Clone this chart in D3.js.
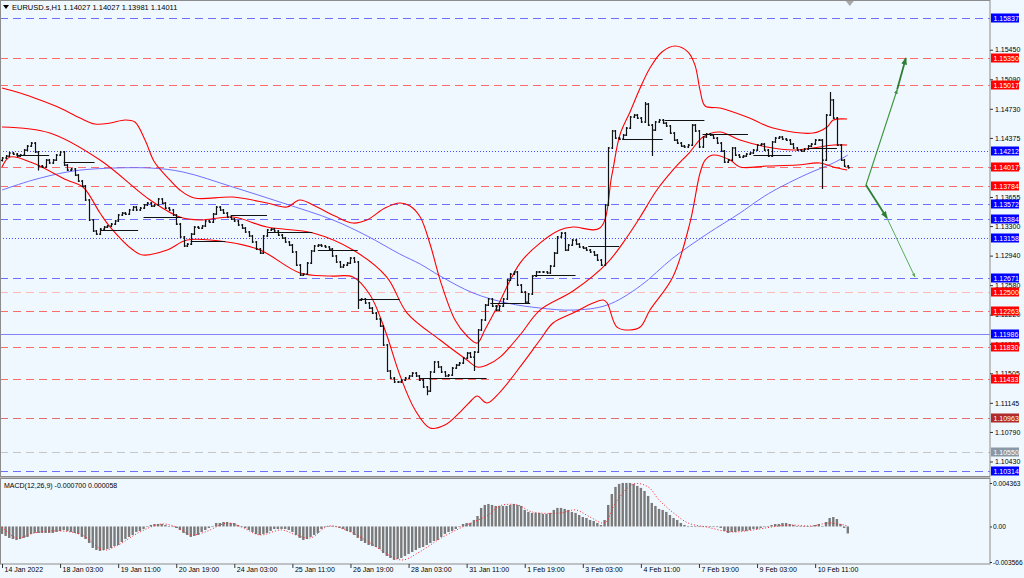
<!DOCTYPE html>
<html>
<head>
<meta charset="utf-8">
<script src="https://d3js.org/d3.v7.min.js"></script>
<style>
  body { margin: 0; background: #f0f8ff; }
  svg text { font-family: "Liberation Sans", Arial, sans-serif; font-size: 7px; fill: #000; }
</style>
</head>
<body>
<svg id="chart" width="1024" height="578"></svg>
<script>
// EURUSD.s H1, one value per two hours
var closes = [
  1.14130,1.14154,1.14191,1.14178,1.14154,1.14166,1.14227,1.14276,1.14312,1.14203,
  1.14032,1.14020,1.14105,1.14069,1.14105,1.14166,1.14203,1.14044,1.13983,1.13996,
  1.13922,1.13849,1.13788,1.13618,1.13374,1.13240,1.13203,1.13264,1.13288,1.13301,
  1.13325,1.13362,1.13435,1.13459,1.13447,1.13496,1.13532,1.13496,1.13520,1.13557,
  1.13581,1.13544,1.13557,1.13630,1.13581,1.13520,1.13496,1.13435,1.13325,1.13167,
  1.13057,1.13081,1.13203,1.13288,1.13276,1.13301,1.13362,1.13349,1.13447,1.13532,
  1.13496,1.13459,1.13410,1.13386,1.13362,1.13313,1.13276,1.13228,1.13179,1.13106,
  1.13020,1.12971,1.13179,1.13252,1.13264,1.13240,1.13191,1.13154,1.13106,1.13069,
  1.12984,1.12825,1.12703,1.12715,1.12849,1.12996,1.13057,1.13069,1.13057,1.13045,
  1.13020,1.12935,1.12862,1.12801,1.12825,1.12849,1.12910,1.12862,1.12398,1.12411,
  1.12362,1.12301,1.12240,1.12167,1.12081,1.11850,1.11533,1.11447,1.11399,1.11399,
  1.11423,1.11447,1.11472,1.11508,1.11472,1.11423,1.11338,1.11289,1.11521,1.11643,
  1.11582,1.11521,1.11472,1.11484,1.11569,1.11606,1.11630,1.11691,1.11752,1.11703,
  1.11764,1.12033,1.12155,1.12337,1.12411,1.12325,1.12276,1.12325,1.12411,1.12642,
  1.12715,1.12740,1.12581,1.12496,1.12374,1.12472,1.12691,1.12740,1.12740,1.12740,
  1.12728,1.12813,1.12971,1.13167,1.13215,1.13008,1.13069,1.13130,1.13081,1.13045,
  1.13032,1.13008,1.12984,1.12947,1.12886,1.12825,1.13557,1.14252,1.14459,1.14373,
  1.14361,1.14410,1.14495,1.14630,1.14654,1.14617,1.14569,1.14788,1.14532,1.14471,
  1.14569,1.14593,1.14556,1.14520,1.14434,1.14349,1.14312,1.14276,1.14264,1.14288,
  1.14532,1.14459,1.14264,1.14386,1.14422,1.14410,1.14373,1.14312,1.14215,1.14081,
  1.14105,1.14252,1.14166,1.14142,1.14154,1.14178,1.14191,1.14227,1.14288,1.14300,
  1.14227,1.14154,1.14325,1.14373,1.14386,1.14361,1.14349,1.14300,1.14252,1.14227,
  1.14215,1.14239,1.14276,1.14300,1.14349,1.14349,1.14105,1.14654,1.14837,1.14617,
  1.14288,1.14105,1.14032,1.14011
];
var firstOpen = 1.14100;
// long wicks [bar, extreme price]
var spikes = [[10,1.13990],[98,1.12300],[117,1.11250],[130,1.11545],[177,1.14801],[179,1.14166],[226,1.13764],[228,1.14922]];

// bollinger lines [bar, price]
var bandUpper = [[0,1.14983],[5,1.14922],[10.5,1.14837],[16,1.14739],[21.5,1.14617],[25.6,1.14544],[29.8,1.14556],[33.9,1.14593],
  [36.6,1.14569],[39.4,1.14349],[42,1.14081],[45.5,1.13898],[49,1.13740],[53,1.13642],[63.6,1.13654],[73,1.13581],[78.5,1.13532],
  [82,1.13618],[86.8,1.13532],[91.7,1.13422],[96.7,1.13337],[100.5,1.13374],[105.5,1.13520],[109.6,1.13581],[112.4,1.13544],
  [115.2,1.13410],[118,1.13069],[120.7,1.12642],[124.8,1.12155],[128.1,1.11960],[130.9,1.11874],[133,1.12033],[136.4,1.12313],
  [142.7,1.12849],[148.2,1.13093],[153.7,1.13252],[157.3,1.13288],[164.7,1.13276],[168,1.13922],[170.2,1.14410],[173,1.14691],
  [175.8,1.14983],[178.5,1.15227],[181.8,1.15422],[185.4,1.15495],[189,1.15422],[190.9,1.15263],[192.3,1.14959],[193.7,1.14764],
  [197.8,1.14739],[205.2,1.14630],[212.4,1.14495],[223.4,1.14434],[227.3,1.14508],[229,1.14593],[232.8,1.14605]];
var bandMiddle = [[0,1.14508],[13.2,1.14434],[27,1.14105],[40.8,1.13618],[49,1.13410],[54.5,1.13374],[63.6,1.13410],[73,1.13288],
  [85.7,1.13215],[96.7,1.13008],[106,1.12679],[111.6,1.12240],[120.7,1.11911],[128.1,1.11667],[130.9,1.11581],[133.6,1.11606],
  [137.2,1.11703],[142.7,1.11972],[148.2,1.12276],[157.3,1.12508],[166.7,1.12849],[172.2,1.13167],[175.8,1.13410],[180.4,1.13740],
  [184.8,1.13983],[189.5,1.14203],[193.1,1.14386],[197.8,1.14447],[203.3,1.14349],[210.7,1.14264],[217.9,1.14227],[223.4,1.14252],
  [229,1.14288],[232.8,1.14288]];
var bandLower = [[0,1.14020],[2.2,1.14142],[8.5,1.14069],[17.9,1.13861],[22.3,1.13776],[27,1.13459],[29.8,1.13288],[36.1,1.13008],
  [38.8,1.12947],[45.5,1.13008],[51,1.13130],[62,1.13106],[71.1,1.13008],[82.1,1.12728],[90.4,1.12691],[96.7,1.12679],[101.4,1.12459],
  [105.5,1.12033],[109.6,1.11484],[113.8,1.11057],[117.9,1.10838],[122,1.10874],[126.2,1.11033],[128.9,1.11155],[130.9,1.11228],
  [133.6,1.11143],[137.2,1.11277],[143.5,1.11630],[148.2,1.11911],[151.8,1.12118],[157.3,1.12240],[162.8,1.12362],[165.6,1.12398],
  [166.7,1.12362],[169.4,1.12069],[173,1.12033],[175.8,1.12069],[178.5,1.12276],[184.8,1.12679],[189.5,1.13337],[192.3,1.13947],
  [193.7,1.14105],[195.9,1.14166],[200.6,1.14105],[203.3,1.14020],[210.7,1.14032],[219,1.14044],[225.3,1.14069],[229,1.14020],
  [232.8,1.13983]];
var maSlow = [[0,1.13740],[8.5,1.13861],[17.9,1.13959],[25.1,1.13996],[40.8,1.14008],[49.9,1.13959],[63.6,1.13776],[77.4,1.13581],
  [91.2,1.13374],[100.6,1.13179],[109.6,1.12959],[115.2,1.12837],[120.7,1.12691],[129.8,1.12484],[139.1,1.12362],[148.2,1.12301],
  [157.3,1.12276],[166.7,1.12337],[175.8,1.12569],[184.8,1.12910],[194.2,1.13203],[203.3,1.13459],[208,1.13605],[212.4,1.13727],
  [221.8,1.13935],[229,1.14069],[233,1.14166]];

// daily open lines [from bar, to bar, price]
var dayLines = [[4,13,1.14166],[17,25.5,1.14081],[27,37.5,1.13252],[39,49.5,1.13410],[52,61.5,1.13118],[63,73,1.13435],
  [73,85.5,1.13228],[87,98,1.13008],[98.5,109.5,1.12411],[115,133.5,1.11447],[134.5,145.5,1.12362],[146.5,158,1.12703],
  [161.5,170,1.13057],[171,182,1.14361],[182.5,193.5,1.14593],[193,205.5,1.14422],[207,217.5,1.14166],[222,230,1.14252]];

var levelPrices = [1.15837,1.15350,1.15017,1.14212,1.14017,1.13784,1.13572,1.13384,1.13158,1.12671,1.12500,1.12263,
  1.11986,1.11830,1.11433,1.10963,1.10550,1.10314];
var levelKinds = ["B","R","R","BD","R","R","B","B","BD","B","RL","R","BS","R","R","RD","G","B"];

var priceTicks = [1.15450,1.15090,1.14730,1.14375,1.14015,1.13655,1.13300,1.12940,1.12580,1.12220,1.11865,1.11505,1.11145,1.10790,1.10430];
var timeLabels = ["14 Jan 2022","18 Jan 03:00","19 Jan 11:00","20 Jan 19:00","24 Jan 03:00","25 Jan 11:00","26 Jan 19:00",
  "28 Jan 03:00","31 Jan 11:00","1 Feb 19:00","3 Feb 03:00","4 Feb 11:00","7 Feb 19:00","9 Feb 03:00","10 Feb 11:00"];
var barsPerLabel = 16;

var macdHist = [
  -0.00075,-0.00095,-0.00115,-0.00126,-0.00136,-0.00126,-0.00115,-0.00105,-0.00075,-0.00065,
  -0.00065,-0.00065,-0.00065,-0.00065,-0.00065,-0.00055,-0.00045,-0.00035,-0.00045,-0.00055,
  -0.00065,-0.00075,-0.00105,-0.00126,-0.00166,-0.00216,-0.00236,-0.00246,-0.00236,-0.00226,
  -0.00216,-0.00196,-0.00186,-0.00156,-0.00126,-0.00105,-0.00085,-0.00055,-0.00045,-0.00025,
  -0.00005,0.00015,0.00025,0.00025,0.00025,0.00015,0.00005,-0.00005,-0.00015,-0.00035,
  -0.00065,-0.00085,-0.00105,-0.00095,-0.00085,-0.00055,-0.00035,-0.00015,0.00005,0.00035,
  0.00035,0.00045,0.00045,0.00035,0.00035,0.00015,-0.00005,-0.00015,-0.00035,-0.00055,
  -0.00075,-0.00085,-0.00075,-0.00065,-0.00045,-0.00025,-0.00025,-0.00025,-0.00025,-0.00035,
  -0.00055,-0.00085,-0.00115,-0.00136,-0.00126,-0.00105,-0.00085,-0.00065,-0.00025,-0.00005,
  0.00005,0.00005,-0.00005,-0.00015,-0.00025,-0.00045,-0.00055,-0.00085,-0.00115,-0.00146,
  -0.00166,-0.00186,-0.00196,-0.00206,-0.00226,-0.00266,-0.00296,-0.00316,-0.00336,-0.00326,
  -0.00316,-0.00296,-0.00276,-0.00256,-0.00236,-0.00216,-0.00206,-0.00186,-0.00166,-0.00146,
  -0.00136,-0.00105,-0.00075,-0.00055,-0.00045,-0.00025,-0.00005,0.00025,0.00035,0.00035,
  0.00065,0.00105,0.00186,0.00216,0.00226,0.00216,0.00206,0.00206,0.00206,0.00206,
  0.00216,0.00226,0.00216,0.00206,0.00166,0.00146,0.00136,0.00136,0.00136,0.00126,
  0.00126,0.00136,0.00166,0.00186,0.00186,0.00176,0.00166,0.00146,0.00136,0.00115,
  0.00095,0.00085,0.00065,0.00055,0.00035,0.00015,0.00065,0.00216,0.00326,0.00397,
  0.00427,0.00437,0.00437,0.00437,0.00427,0.00407,0.00387,0.00356,0.00306,0.00236,
  0.00206,0.00176,0.00166,0.00146,0.00115,0.00085,0.00065,0.00035,0.00015,-0.00005,
  0.00005,0.00005,-0.00005,-0.00005,0.00005,0.00005,-0.00005,-0.00005,-0.00015,-0.00045,
  -0.00065,-0.00055,-0.00055,-0.00045,-0.00045,-0.00045,-0.00035,-0.00025,-0.00025,-0.00015,
  -0.00005,-0.00005,0.00015,0.00025,0.00025,0.00035,0.00035,0.00025,0.00015,0.00005,
  0.00005,0.00005,0.00005,0.00005,0.00015,0.00025,0.00005,0.00045,0.00085,0.00095,
  0.00075,0.00025,-0.00015,-0.00070
];
var macdSignal = [[0,-0.00005],[4,-0.00115],[9,-0.00065],[16,-0.00045],[22,-0.00085],[28,-0.00236],[32,-0.00186],[38,-0.00055],
  [44,0.00025],[48,-0.00005],[52,-0.00085],[56,-0.00055],[62,0.00035],[66,-0.00005],[71,-0.00085],[77,-0.00035],[81,-0.00085],
  [85,-0.00115],[90,0.00005],[96,-0.00055],[101,-0.00156],[110,-0.00336],[115,-0.00256],[121,-0.00115],[128,0.00015],[134,0.00115],
  [137,0.00206],[142,0.00216],[146,0.00146],[154,0.00136],[158,0.00166],[162,0.00095],[166,0.00035],[169,0.00236],[174,0.00427],
  [178,0.00397],[181,0.00266],[185,0.00136],[189,0.00035],[194,-0.00005],[201,-0.00055],[207,-0.00035],[212,-0.00005],
  [217,0.00015],[223,0.00005],[228,0.00035],[233,0.00006]];
var macdTicks = [0.004363, 0, -0.003566];
var macdTickText = ["0.004363", "0.00", "-0.003566"];

// scenario arrows [bar, price]
var arrowUp = [[238,1.13800],[246.6,1.14964],[249,1.15349]];
var arrowDown = [[238,1.13800],[243.8,1.13398],[251.5,1.12679]];

var svg = d3.select("#chart");
var plotRight = 990, mainBottom = 476, macdTop = 479, macdBottom = 564;

var x = d3.scaleLinear().domain([0, closes.length - 1]).range([2, 847.8]);
var y = d3.scaleLinear().domain([1.10314, 1.15837]).range([471, 18]);
var ym = d3.scaleLinear().domain([-0.003566, 0.004363]).range([562, 483]);

svg.append("rect").attr("width", 1024).attr("height", 578).attr("fill", "#f0f8ff");

var defs = svg.append("defs");
defs.append("clipPath").attr("id", "clipMain").append("rect")
    .attr("x", 1).attr("y", 1).attr("width", plotRight - 1).attr("height", mainBottom - 1);
defs.append("clipPath").attr("id", "clipMacd").append("rect")
    .attr("x", 1).attr("y", macdTop).attr("width", plotRight - 1).attr("height", macdBottom - macdTop);
["#3c963c", "#2e7d32", "#5aaa5a"].forEach(function(c, i) {
    defs.append("marker").attr("id", "ah" + i)
        .attr("viewBox", "0 0 10 10").attr("refX", 9).attr("refY", 5)
        .attr("markerWidth", 4).attr("markerHeight", 4).attr("orient", "auto")
        .append("path").attr("d", "M0,1 L10,5 L0,9 z").attr("fill", c);
});

var main = svg.append("g").attr("clip-path", "url(#clipMain)");

// horizontal levels
var lineStyle = {
    B:  {c: "#6e6eff", d: "8,5"},
    BD: {c: "#4a4aff", d: "1,2"},
    BS: {c: "#8383ff", d: null},
    R:  {c: "#ff6a6a", d: "8,5"},
    RL: {c: "#ffb8b8", d: "8,5"},
    RD: {c: "#e07070", d: "8,5"},
    G:  {c: "#c6c6c6", d: "8,5"}
};
var boxColor = {B: "#0000ff", BD: "#0000ff", BS: "#0000ff", R: "#ff0000", RL: "#ff0000", RD: "#b02a2a", G: "#8a98a6"};

main.selectAll("line.level")
    .data(levelPrices)
    .enter().append("line")
    .attr("class", "level")
    .attr("x1", 0).attr("x2", plotRight)
    .attr("y1", function(d) { return Math.round(y(d)) + 0.5; })
    .attr("y2", function(d) { return Math.round(y(d)) + 0.5; })
    .attr("stroke", function(d, i) { return lineStyle[levelKinds[i]].c; })
    .attr("stroke-dasharray", function(d, i) { return lineStyle[levelKinds[i]].d; })
    .attr("stroke-width", 1);

// indicator lines
var curve = d3.line()
    .x(function(d) { return x(d[0]); })
    .y(function(d) { return y(d[1]); })
    .curve(d3.curveCatmullRom.alpha(0.5));

main.append("path").attr("d", curve(maSlow))
    .attr("fill", "none").attr("stroke", "#7070ff").attr("stroke-width", 1);
[bandUpper, bandMiddle, bandLower].forEach(function(b) {
    main.append("path").attr("d", curve(b))
        .attr("fill", "none").attr("stroke", "#ff0000").attr("stroke-width", 1.1);
});

// daily open lines
main.selectAll("line.day")
    .data(dayLines)
    .enter().append("line")
    .attr("x1", function(d) { return x(d[0]); })
    .attr("x2", function(d) { return x(d[1]); })
    .attr("y1", function(d) { return Math.round(y(d[2])) + 0.5; })
    .attr("y2", function(d) { return Math.round(y(d[2])) + 0.5; })
    .attr("stroke", "#111").attr("stroke-width", 1);

// price bars
var spikeMap = {};
spikes.forEach(function(s) { spikeMap[s[0]] = s[1]; });
var barPath = "";
closes.forEach(function(c, i) {
    var o = i ? closes[i - 1] : firstOpen;
    var hi = Math.max(o, c), lo = Math.min(o, c);
    if (spikeMap[i] !== undefined) { hi = Math.max(hi, spikeMap[i]); lo = Math.min(lo, spikeMap[i]); }
    var bx = Math.round(x(i)) + 0.5;
    barPath += "M" + bx + "," + (y(hi) - 1) + "V" + (y(lo) + 1) +
               "M" + (bx - 1.5) + "," + y(o) + "H" + bx +
               "M" + bx + "," + y(c) + "H" + (bx + 1.5);
});
main.append("path").attr("d", barPath)
    .attr("fill", "none").attr("stroke", "#111").attr("stroke-width", 1.2);

// arrows
var segLine = d3.line().x(function(d) { return x(d[0]); }).y(function(d) { return y(d[1]); });
function arrowSeg(a, b, color, w, m) {
    main.append("path").attr("d", segLine([a, b]))
        .attr("stroke", color).attr("stroke-width", w).attr("fill", "none")
        .attr("marker-end", "url(#ah" + m + ")");
}
arrowSeg(arrowUp[0], arrowUp[1], "#3c963c", 1.2, 0);
arrowSeg(arrowUp[1], arrowUp[2], "#2e7d32", 1.8, 1);
arrowSeg(arrowDown[0], arrowDown[1], "#2e7d32", 1.8, 1);
arrowSeg(arrowDown[1], arrowDown[2], "#5aaa5a", 1, 2);

// MACD panel
var macd = svg.append("g").attr("clip-path", "url(#clipMacd)");
macd.selectAll("rect.hist")
    .data(macdHist)
    .enter().append("rect")
    .attr("x", function(d, i) { return x(i) - 1.2; })
    .attr("width", 2.4)
    .attr("y", function(d) { return Math.min(ym(0), ym(d)); })
    .attr("height", function(d) { return Math.max(0.6, Math.abs(ym(d) - ym(0))); })
    .attr("fill", "#7a7a7a");
macd.append("path")
    .attr("d", d3.line().x(function(d) { return x(d[0]); }).y(function(d) { return ym(d[1]); })
        .curve(d3.curveCatmullRom.alpha(0.5))(macdSignal))
    .attr("fill", "none").attr("stroke", "#ff2020").attr("stroke-width", 1)
    .attr("stroke-dasharray", "1,2");

// frames
svg.append("rect").attr("x", 0.5).attr("y", 0.5).attr("width", plotRight - 0.5).attr("height", mainBottom)
    .attr("fill", "none").attr("stroke", "#8c8c8c");
svg.append("rect").attr("x", 0.5).attr("y", macdTop - 0.5).attr("width", plotRight - 0.5).attr("height", macdBottom - macdTop + 0.5)
    .attr("fill", "none").attr("stroke", "#8c8c8c");
svg.append("line").attr("x1", 0).attr("x2", plotRight).attr("y1", mainBottom + 1.5).attr("y2", mainBottom + 1.5)
    .attr("stroke", "#b8b8b8");

// price axis
var yAxis = svg.append("g").attr("transform", "translate(" + plotRight + ",0)")
    .call(d3.axisRight(y).tickValues(priceTicks).tickSize(3).tickPadding(2).tickFormat(d3.format(".5f")));
yAxis.select(".domain").remove();
yAxis.selectAll("line").attr("stroke", "#333");
yAxis.selectAll("text").style("font-size", "7px");

// level price boxes
var boxes = svg.selectAll("g.box").data(levelPrices).enter().append("g")
    .attr("transform", function(d) { return "translate(" + (plotRight + 1) + "," + Math.round(y(d)) + ")"; });
boxes.append("rect").attr("x", 0).attr("y", -4.5).attr("width", 28).attr("height", 9)
    .attr("fill", function(d, i) { return boxColor[levelKinds[i]]; });
boxes.append("text").attr("x", 2.5).attr("y", 2.6)
    .style("fill", "#fff")
    .text(function(d) { return d3.format(".5f")(d); });

// MACD axis
var mAxis = svg.append("g").attr("transform", "translate(" + plotRight + ",0)")
    .call(d3.axisRight(ym).tickValues(macdTicks).tickSize(2).tickPadding(1)
        .tickFormat(function(d, i) { return macdTickText[i]; }));
mAxis.select(".domain").remove();
mAxis.selectAll("line").attr("stroke", "#333");
mAxis.selectAll("text").style("font-size", "6.6px");

// time axis
var tAxis = svg.append("g").attr("transform", "translate(0," + macdBottom + ")")
    .call(d3.axisBottom(x).tickValues(timeLabels.map(function(d, i) { return i * barsPerLabel; }))
        .tickSize(4).tickFormat(function(d, i) { return timeLabels[i]; }));
tAxis.select(".domain").remove();
tAxis.selectAll("line").attr("stroke", "#333");
tAxis.selectAll("text").style("font-size", "7px").attr("text-anchor", "start").attr("x", 2).attr("dy", "0.1em");

// headers
svg.append("path").attr("d", "M3,5 L9,5 L6,9 z").attr("fill", "#000");
svg.append("text").attr("x", 12).attr("y", 10).style("font-size", "7.5px")
    .text("EURUSD.s,H1  1.14027 1.14027 1.13981 1.14011");
svg.append("text").attr("x", 4).attr("y", 488).text("MACD(12,26,9) -0.000700 0.000058");

// chart shift marker
var sx = x(closes.length - 1) + 2;
svg.append("path").attr("d", "M" + (sx - 4) + ",1 L" + (sx + 4) + ",1 L" + sx + ",6 z").attr("fill", "#a8a8a8");
</script>
</body>
</html>
